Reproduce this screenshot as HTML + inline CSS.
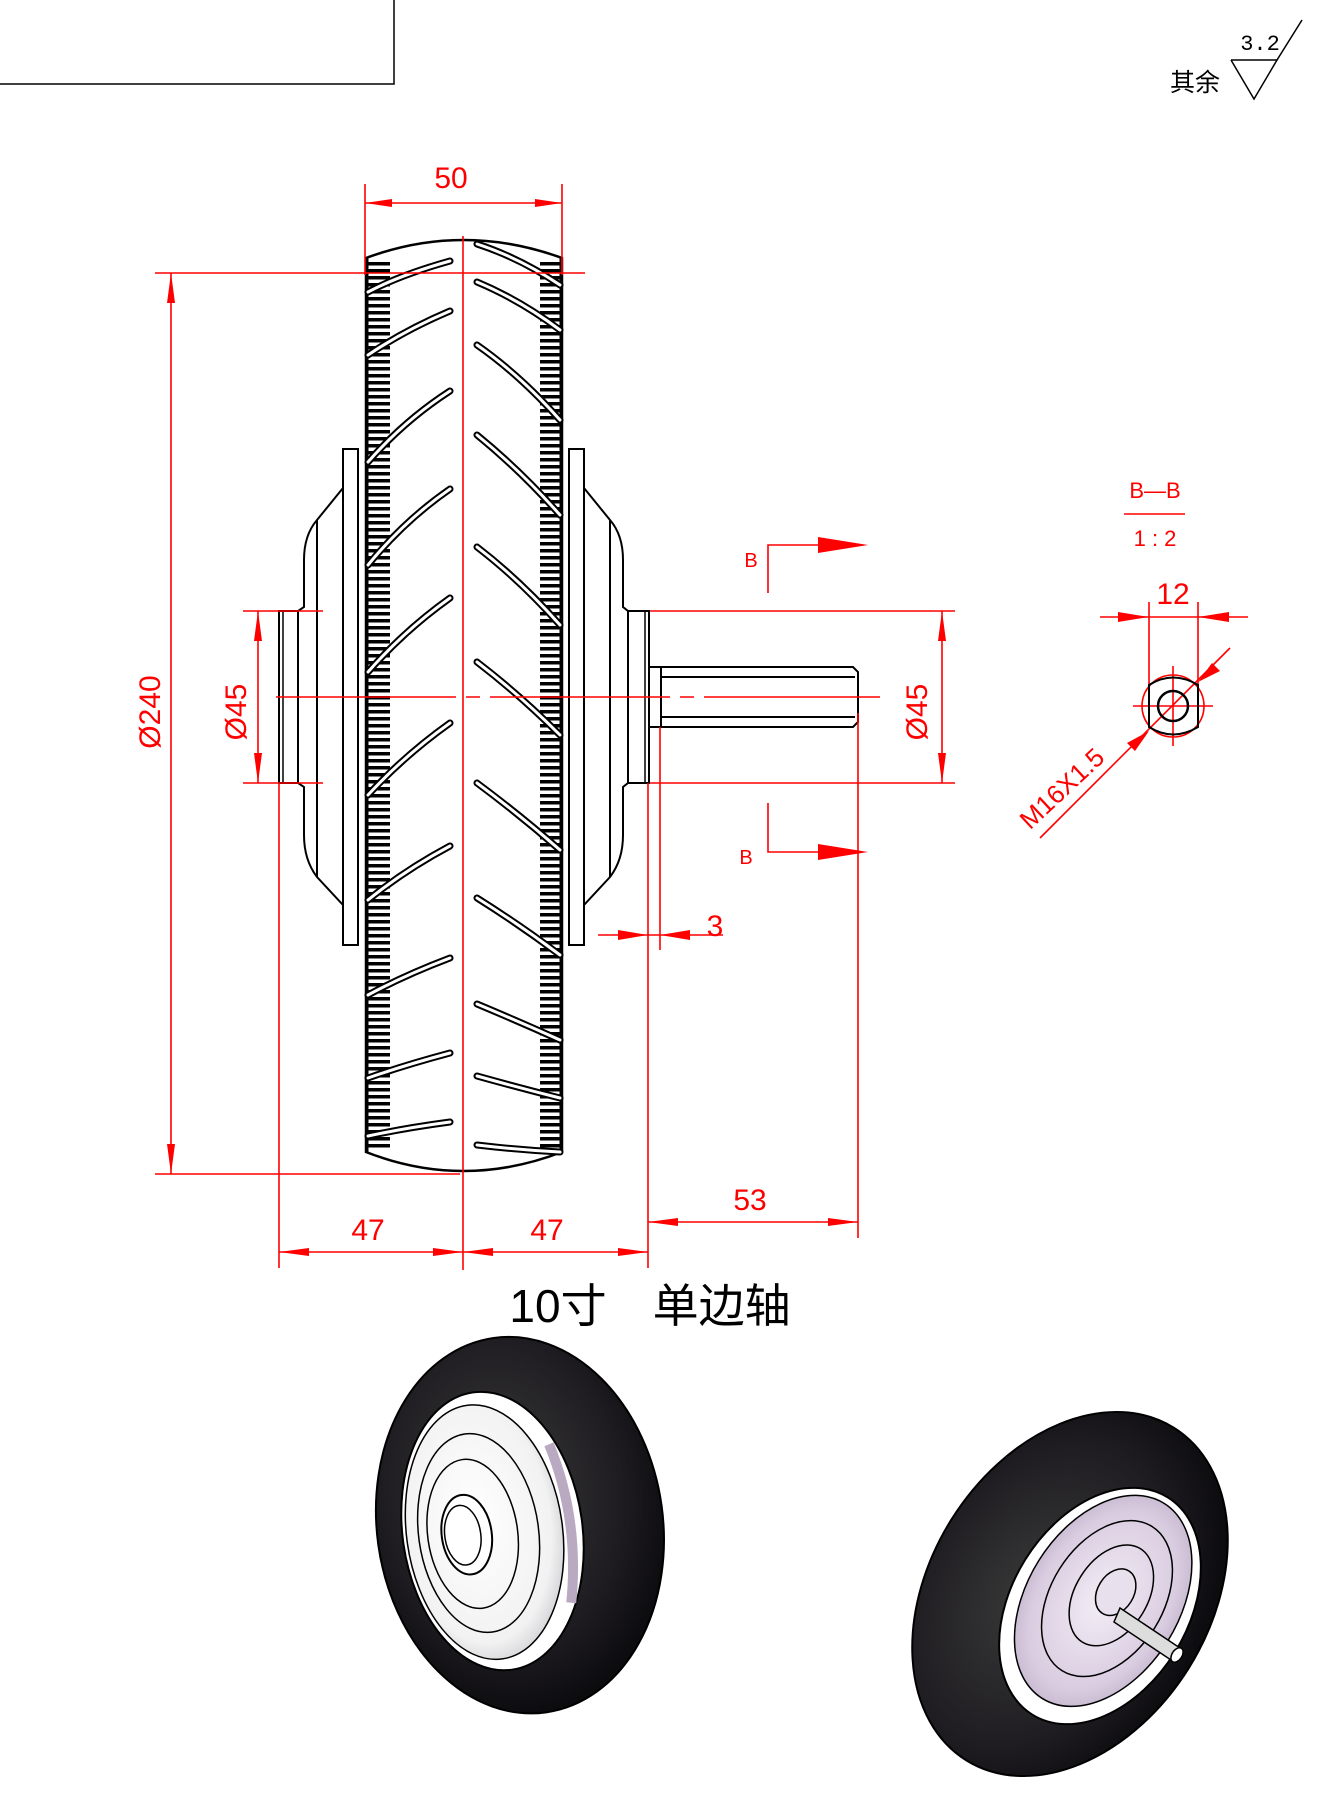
<!DOCTYPE html>
<html><head><meta charset="utf-8"><style>
html,body{margin:0;padding:0;background:#fff}
svg{display:block}
.r{stroke:#f00;stroke-width:1.6;fill:none}
.k{stroke:#000;stroke-width:2;fill:#fff}
.t{font-family:"Liberation Sans","Noto Sans CJK SC",sans-serif;fill:#f00;font-weight:normal}
</style></head><body>
<svg width="1335" height="1806" viewBox="0 0 1335 1806" xmlns="http://www.w3.org/2000/svg">
<defs>
<radialGradient id="tg" cx="45%" cy="40%" r="60%"><stop offset="0" stop-color="#3a3a3a"/><stop offset="0.7" stop-color="#1e1c20"/><stop offset="1" stop-color="#0c0b0e"/></radialGradient>
<radialGradient id="hg" cx="45%" cy="45%" r="60%"><stop offset="0" stop-color="#fff"/><stop offset="0.8" stop-color="#f2f2f2"/><stop offset="1" stop-color="#cfcfd4"/></radialGradient>
<radialGradient id="lg" cx="50%" cy="50%" r="60%"><stop offset="0" stop-color="#f4eef6"/><stop offset="0.7" stop-color="#d9cce0"/><stop offset="1" stop-color="#b9a9c2"/></radialGradient>
</defs>

<!-- title block corner -->
<polyline points="0,84 394,84 394,0" fill="none" stroke="#000" stroke-width="1.5"/>

<!-- surface finish symbol -->
<text x="1195" y="91" font-size="25" font-family="Liberation Sans,'Noto Sans CJK SC',sans-serif" text-anchor="middle" fill="#000">其余</text>
<polyline points="1231,60 1277,60 1254,99 1231,60" fill="none" stroke="#000" stroke-width="1.5"/>
<line x1="1277" y1="60" x2="1302" y2="20" stroke="#000" stroke-width="1.5"/>
<text x="1260" y="50" font-size="22" font-family="Liberation Mono,monospace" text-anchor="middle" fill="#000">3.2</text>

<!-- ===== WHEEL FRONT VIEW ===== -->
<!-- left plate and bell -->
<path class="k" d="M343,488 L317,520 Q304,535 304,560 L304,607 L298,611 L298,783 L304,787 L304,835 Q304,860 317,877 L343,905 Z"/>
<line x1="317" y1="520" x2="317" y2="877" stroke="#000" stroke-width="2"/>
<rect class="k" x="279" y="611" width="19" height="172"/>
<line x1="283" y1="611" x2="283" y2="783" stroke="#000" stroke-width="1.5"/>
<rect class="k" x="343" y="449" width="15" height="496"/>
<!-- right plate and bell -->
<path class="k" d="M584,488 L610,520 Q623,535 623,560 L623,607 L628,611 L628,783 L623,787 L623,835 Q623,860 610,877 L584,905 Z"/>
<line x1="610" y1="520" x2="610" y2="877" stroke="#000" stroke-width="2"/>
<rect class="k" x="628" y="611" width="21" height="172"/>
<line x1="645" y1="611" x2="645" y2="783" stroke="#000" stroke-width="1.5"/>
<rect class="k" x="569" y="449" width="15" height="496"/>
<!-- shaft -->
<rect class="k" x="649" y="667" width="12" height="60"/>
<path class="k" d="M661,667 L853,667 L858,672 L858,722 L853,727 L661,727 Z"/>
<line x1="661" y1="677" x2="855" y2="677" stroke="#000" stroke-width="2"/>
<line x1="661" y1="717" x2="855" y2="717" stroke="#000" stroke-width="2"/>

<!-- tire -->
<path d="M366,258 Q463,222 562,258 L562,1152 Q463,1190 366,1152 Z" fill="#fff" stroke="#000" stroke-width="2.5"/>
<line x1="378" y1="262" x2="378" y2="1150" stroke="#000" stroke-width="24" stroke-dasharray="3.5 3.5"/>
<line x1="551" y1="262" x2="551" y2="1150" stroke="#000" stroke-width="22" stroke-dasharray="3.5 3.5"/>
<line x1="367" y1="258" x2="367" y2="1152" stroke="#000" stroke-width="3"/>
<line x1="561" y1="258" x2="561" y2="1152" stroke="#000" stroke-width="3"/>
<!-- left slashes -->
<g fill="none" stroke-linecap="round">
<g stroke="#000" stroke-width="7">
<path d="M450,261 Q400,275 368,292"/><path d="M450,311 Q405,330 368,355"/><path d="M450,391 Q405,420 368,462"/><path d="M450,489 Q405,520 368,565"/><path d="M450,598 Q405,630 368,672"/><path d="M450,723 Q405,755 368,795"/><path d="M450,846 Q405,870 368,900"/><path d="M450,958 Q405,975 368,995"/><path d="M450,1053 Q405,1065 368,1078"/><path d="M450,1122 Q405,1128 368,1136"/>
<path d="M477,244 Q520,258 560,285"/><path d="M477,282 Q520,300 560,330"/><path d="M477,345 Q520,375 560,420"/><path d="M477,435 Q520,470 560,515"/><path d="M477,547 Q520,580 560,625"/><path d="M477,662 Q520,695 560,735"/><path d="M477,783 Q520,815 560,850"/><path d="M477,898 Q520,925 560,955"/><path d="M477,1004 Q520,1022 560,1040"/><path d="M477,1076 Q520,1088 560,1098"/><path d="M477,1145 Q520,1150 560,1152"/>
</g>
<g stroke="#fff" stroke-width="3">
<path d="M450,261 Q400,275 368,292"/><path d="M450,311 Q405,330 368,355"/><path d="M450,391 Q405,420 368,462"/><path d="M450,489 Q405,520 368,565"/><path d="M450,598 Q405,630 368,672"/><path d="M450,723 Q405,755 368,795"/><path d="M450,846 Q405,870 368,900"/><path d="M450,958 Q405,975 368,995"/><path d="M450,1053 Q405,1065 368,1078"/><path d="M450,1122 Q405,1128 368,1136"/>
<path d="M477,244 Q520,258 560,285"/><path d="M477,282 Q520,300 560,330"/><path d="M477,345 Q520,375 560,420"/><path d="M477,435 Q520,470 560,515"/><path d="M477,547 Q520,580 560,625"/><path d="M477,662 Q520,695 560,735"/><path d="M477,783 Q520,815 560,850"/><path d="M477,898 Q520,925 560,955"/><path d="M477,1004 Q520,1022 560,1040"/><path d="M477,1076 Q520,1088 560,1098"/><path d="M477,1145 Q520,1150 560,1152"/>
</g>
</g>

<!-- ===== RED DIMENSIONS ===== -->
<g class="r">
<!-- center lines -->
<line x1="463" y1="236" x2="463" y2="1270"/>
<line x1="276" y1="697" x2="880" y2="697" stroke-dasharray="180 10 14 10"/>
<!-- 50 -->
<line x1="365" y1="184" x2="365" y2="275"/>
<line x1="562" y1="184" x2="562" y2="275"/>
<line x1="365" y1="203" x2="562" y2="203"/>
<!-- 240 -->
<line x1="155" y1="273" x2="585" y2="273"/>
<line x1="155" y1="1174" x2="460" y2="1174"/>
<line x1="171" y1="273" x2="171" y2="1174"/>
<!-- left 45 -->
<line x1="243" y1="611" x2="323" y2="611"/>
<line x1="243" y1="783" x2="323" y2="783"/>
<line x1="258" y1="611" x2="258" y2="783"/>
<!-- right 45 -->
<line x1="650" y1="611" x2="955" y2="611"/>
<line x1="650" y1="783" x2="955" y2="783"/>
<line x1="942" y1="611" x2="942" y2="783"/>
<!-- B section -->
<polyline points="768,593 768,545 820,545"/>
<polyline points="768,803 768,852 820,852"/>
<!-- 3 -->
<line x1="598" y1="935" x2="723" y2="935"/>
<line x1="660" y1="727" x2="660" y2="950"/>
<!-- extension lines -->
<line x1="279" y1="783" x2="279" y2="1268"/>
<line x1="648" y1="783" x2="648" y2="1268"/>
<line x1="858" y1="713" x2="858" y2="1238"/>
<!-- 47 47 -->
<line x1="279" y1="1252" x2="648" y2="1252"/>
<!-- 53 -->
<line x1="648" y1="1222" x2="858" y2="1222"/>
<!-- B-B detail -->
<line x1="1124" y1="514" x2="1185" y2="514"/>
<line x1="1100" y1="617" x2="1248" y2="617"/>
<line x1="1149" y1="602" x2="1149" y2="690"/>
<line x1="1198" y1="602" x2="1198" y2="690"/>
<line x1="1040" y1="838" x2="1230" y2="648"/>
<line x1="1173" y1="666" x2="1173" y2="746"/>
<line x1="1133" y1="706" x2="1213" y2="706"/>
<circle cx="1173" cy="706" r="31"/>
</g>
<!-- arrowheads -->
<g fill="#f00">
<polygon points="365,203 392,199 392,207"/><polygon points="562,203 535,199 535,207"/>
<polygon points="171,273 167,303 175,303"/><polygon points="171,1174 167,1144 175,1144"/>
<polygon points="258,611 254,641 262,641"/><polygon points="258,783 254,753 262,753"/>
<polygon points="942,611 938,641 946,641"/><polygon points="942,783 938,753 946,753"/>
<polygon points="868,545 818,537 818,553"/><polygon points="868,852 818,844 818,860"/>
<polygon points="648,935 618,930 618,940"/><polygon points="660,935 690,930 690,940"/>
<polygon points="279,1252 309,1248 309,1256"/><polygon points="463,1252 433,1248 433,1256"/>
<polygon points="463,1252 493,1248 493,1256"/><polygon points="648,1252 618,1248 618,1256"/>
<polygon points="648,1222 678,1218 678,1226"/><polygon points="858,1222 828,1218 828,1226"/>
<polygon points="1149,617 1118,612 1118,622"/><polygon points="1198,617 1229,612 1229,622"/>
<polygon points="1149,731 1127,743 1135,751"/><polygon points="1198,682 1212,663 1220,671"/>
</g>
<!-- shaft section body -->
<path d="M1149,685 Q1173,670 1198,685 L1198,727 Q1173,742 1149,727 Z" fill="none" stroke="#000" stroke-width="2"/>
<circle cx="1173" cy="706" r="15" fill="none" stroke="#000" stroke-width="2.5"/>

<!-- dimension texts -->
<g class="t">
<text x="451" y="188" font-size="30" text-anchor="middle">50</text>
<text transform="translate(160,712) rotate(-90)" font-size="30" text-anchor="middle">Ø240</text>
<text transform="translate(246,712) rotate(-90)" font-size="30" text-anchor="middle">Ø45</text>
<text transform="translate(927,712) rotate(-90)" font-size="30" text-anchor="middle">Ø45</text>
<text x="751" y="567" font-size="20" text-anchor="middle">B</text>
<text x="746" y="864" font-size="20" text-anchor="middle">B</text>
<text x="715" y="936" font-size="30" text-anchor="middle">3</text>
<text x="368" y="1240" font-size="30" text-anchor="middle">47</text>
<text x="547" y="1240" font-size="30" text-anchor="middle">47</text>
<text x="750" y="1210" font-size="30" text-anchor="middle">53</text>
<text x="1155" y="498" font-size="22" text-anchor="middle">B—B</text>
<text x="1155" y="546" font-size="22" text-anchor="middle">1 : 2</text>
<text x="1173" y="604" font-size="30" text-anchor="middle">12</text>
<text transform="translate(1068,795) rotate(-43)" font-size="26" text-anchor="middle">M16X1.5</text>
</g>

<text x="650" y="1322" font-size="46" text-anchor="middle" font-family="Liberation Sans,'Noto Sans CJK SC',sans-serif" fill="#000">10寸　单边轴</text>

<!-- ===== 3D LEFT WHEEL ===== -->
<g transform="rotate(-8 514 1526)">
<ellipse cx="520" cy="1526" rx="143" ry="189" fill="url(#tg)" stroke="#000" stroke-width="2"/>
<ellipse cx="492" cy="1528" rx="90" ry="140" fill="#fff" stroke="#000" stroke-width="2"/>
<ellipse cx="484" cy="1528" rx="78" ry="128" fill="url(#hg)" stroke="#000" stroke-width="1.5"/>
<ellipse cx="478" cy="1528" rx="60" ry="100" fill="none" stroke="#000" stroke-width="1.5"/>
<ellipse cx="472" cy="1528" rx="45" ry="75" fill="none" stroke="#000" stroke-width="1.5"/>
<ellipse cx="466" cy="1528" rx="25" ry="40" fill="#fff" stroke="#000" stroke-width="2"/>
<ellipse cx="462" cy="1528" rx="18" ry="30" fill="#fff" stroke="#000" stroke-width="1.5"/>
<path d="M560,1450 Q580,1528 560,1610" fill="none" stroke="#b9aac2" stroke-width="10"/>
</g>

<!-- ===== 3D RIGHT WHEEL ===== -->
<g transform="rotate(-58 1070 1594)">
<ellipse cx="1070" cy="1594" rx="196" ry="140" fill="url(#tg)" stroke="#000" stroke-width="2"/>
</g>
<g transform="rotate(-58 1100 1606)">
<ellipse cx="1100" cy="1606" rx="128" ry="88" fill="#fff" stroke="#000" stroke-width="2"/>
<ellipse cx="1106" cy="1606" rx="115" ry="76" fill="url(#lg)" stroke="#000" stroke-width="1.5"/>
<ellipse cx="1110" cy="1608" rx="85" ry="56" fill="none" stroke="#000" stroke-width="1.5"/>
<ellipse cx="1115" cy="1610" rx="55" ry="36" fill="none" stroke="#000" stroke-width="1.5"/>
<ellipse cx="1120" cy="1612" rx="25" ry="18" fill="#e8e0ec" stroke="#000" stroke-width="1.5"/>
</g>
<path d="M1120,1608 L1180,1648 L1174,1662 L1114,1622 Z" fill="#ddd" stroke="#000" stroke-width="1.5"/>
<ellipse cx="1177" cy="1655" rx="5" ry="8" fill="#fff" stroke="#000" stroke-width="1.5" transform="rotate(34 1177 1655)"/>
</svg>
</body></html>
